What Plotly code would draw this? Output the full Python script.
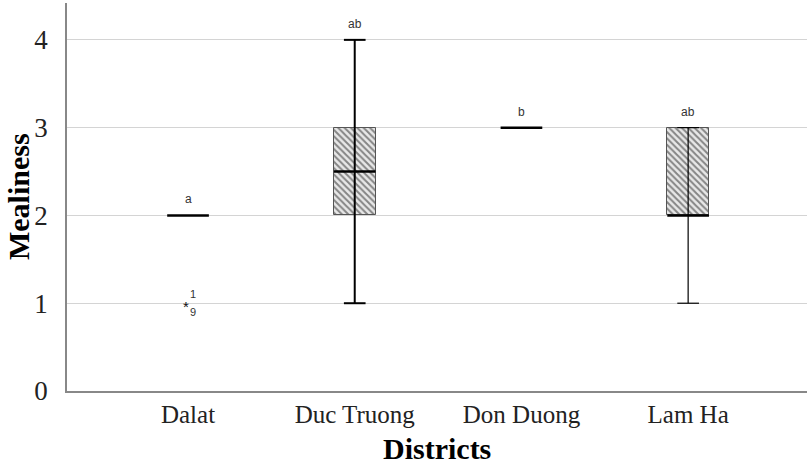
import plotly.graph_objects as go

categories = ["Dalat", "Duc Truong", "Don Duong", "Lam Ha"]
q1 = [2, 2, 3, 2]
median = [2, 2.5, 3, 2]
q3 = [2, 3, 3, 3]
whisker_low = [2, 1, 3, 1]
whisker_high = [2, 4, 3, 3]
outlier_values = [1, None, None, None]
outlier_cases = [["1", "9"], [], [], []]
letters = ["a", "ab", "b", "ab"]
whisker_widths = [2, 2, 2, 1.2]

box_w = 0.25
cap_w = 0.13

fig = go.Figure()

xs = list(range(len(categories)))

# boxes with hatch
bx, bb, bh = [], [], []
for i in xs:
    if q3[i] > q1[i]:
        bx.append(i); bb.append(q1[i]); bh.append(q3[i] - q1[i])
fig.add_trace(go.Bar(
    x=bx, y=bh, base=bb, width=box_w,
    marker=dict(color="white", line=dict(color="#555", width=1),
                pattern=dict(shape="\\", fgcolor="#222", bgcolor="#e8e8e8", size=4.5, solidity=0.45)),
    showlegend=False, hoverinfo="skip"))

for i in xs:
    if whisker_high[i] > whisker_low[i]:
        fig.add_trace(go.Scatter(
            x=[i, i, None, i - cap_w / 2, i + cap_w / 2, None, i - cap_w / 2, i + cap_w / 2],
            y=[whisker_low[i], whisker_high[i], None, whisker_low[i], whisker_low[i], None,
               whisker_high[i], whisker_high[i]],
            mode="lines", line=dict(color="black", width=whisker_widths[i]),
            showlegend=False, hoverinfo="skip"))
    fig.add_trace(go.Scatter(
        x=[i - box_w / 2, i + box_w / 2], y=[median[i], median[i]],
        mode="lines", line=dict(color="black", width=2.5),
        showlegend=False, hoverinfo="skip"))

sans = "Liberation Sans, Arial"
for i in xs:
    if outlier_values[i] is not None:
        fig.add_annotation(x=i, y=outlier_values[i], text="*", showarrow=False,
                           xshift=-2, yshift=-3,
                           font=dict(family=sans, size=15, color="#111"))
        for k, lab in enumerate(outlier_cases[i]):
            fig.add_annotation(x=i, y=outlier_values[i], text=lab, showarrow=False,
                               xshift=5, yshift=9 - 18 * k,
                               font=dict(family=sans, size=11, color="#333"))

for i in xs:
    fig.add_annotation(x=i, y=whisker_high[i], text=letters[i], showarrow=False,
                       yshift=16, font=dict(family=sans, size=12, color="#333"))

serif = "Liberation Serif, Times New Roman, serif"
fig.add_annotation(xref="paper", yref="paper", x=0.5, y=-0.147, text="<b>Districts</b>",
                   showarrow=False, xanchor="center", yanchor="middle",
                   font=dict(family=serif, size=30, color="black"))
fig.add_annotation(xref="paper", yref="paper", x=-0.0662, y=0.5, text="<b>Mealiness</b>",
                   showarrow=False, xanchor="center", yanchor="middle", textangle=-90,
                   font=dict(family=serif, size=30, color="black"))

fig.update_layout(
    width=807, height=470,
    margin=dict(l=67, r=0, t=3, b=79, autoexpand=False),
    plot_bgcolor="white", paper_bgcolor="white",
    bargap=0,
    xaxis=dict(range=[-0.726, 3.713], tickvals=xs, ticktext=categories, automargin=False,
               showgrid=False, zeroline=False, showline=True, linecolor="#888", linewidth=1.5,
               ticks="", ticklabelstandoff=0, tickfont=dict(family=serif, size=25, color="#222")),
    yaxis=dict(range=[0, 4.42], tickvals=[0, 1, 2, 3, 4], automargin=False,
               showgrid=True, gridcolor="#d4d4d4", gridwidth=1, zeroline=False,
               showline=True, linecolor="#888", linewidth=1.5,
               ticks="", ticklabelstandoff=12, tickfont=dict(family=serif, size=27, color="#222")),
)

fig.write_html("out.html", config={"displayModeBar": False},
               post_script="document.body.style.margin='0';document.body.style.overflow='hidden';")
